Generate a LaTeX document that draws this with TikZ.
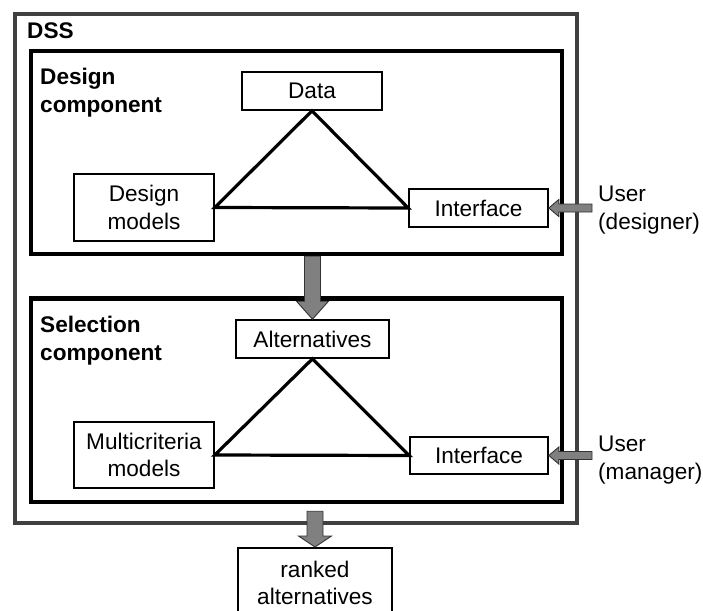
\documentclass[tikz,border=0pt]{standalone}
\usepackage{fontspec}
\setmainfont{Liberation Sans}
\usetikzlibrary{calc}

\newcommand{\dssfont}{\fontsize{22.6}{27.5}\selectfont}
\tikzset{shaft w/.store in=\shaftw, head w/.store in=\headw, tip len/.store in=\tipl,
  shaft w=8pt, head w=16pt, tip len=18pt}

\begin{document}
\begin{tikzpicture}[x=1pt, y=-1pt,
box/.style={draw, line width=1.6pt, inner sep=0pt, align=center, font=\dssfont},
comp/.style={draw, line width=4.5pt, inner sep=0pt},
title/.style={inner sep=0pt, align=left, anchor=north west, font=\dssfont\bfseries},
usertext/.style={inner sep=0pt, align=left, anchor=north west, font=\dssfont},
tri/.style={line width=3.2pt, line join=miter},
fatarrow/.style={draw=black!80, fill=gray, line width=0.9pt, line join=miter,
  to path={($(\tikztostart)!\shaftw!90:(\tikztotarget)$)
    -- ($(\tikztotarget)!\tipl!(\tikztostart)!\shaftw!90:(\tikztotarget)$)
    -- ($(\tikztotarget)!\tipl!(\tikztostart)!\headw!90:(\tikztotarget)$)
    -- (\tikztotarget)
    -- ($(\tikztotarget)!\tipl!(\tikztostart)!\headw!-90:(\tikztotarget)$)
    -- ($(\tikztotarget)!\tipl!(\tikztostart)!\shaftw!-90:(\tikztotarget)$)
    -- ($(\tikztostart)!\shaftw!-90:(\tikztotarget)$) -- cycle}}]
\useasboundingbox (0,0) rectangle (703,610);

% outer frame and the two components
\node[comp, draw=black!75, line width=4pt, minimum width=562pt, minimum height=509pt] (dss) at (296,268.5) {};
\node[comp, minimum width=531pt, minimum height=203pt] (design) at (296.5,152.5) {};
\node[comp, minimum width=531pt, minimum height=203.5pt] (selection) at (296.5,400.25) {};
\node[title, anchor=base west] (dsslabel) at (27,39) {DSS};
\node[title] (designlabel) at (40,68.3) {Design\\component};
\node[title] (selectionlabel) at (40,316.3) {Selection\\component};

% design component
\node[box, minimum width=140pt, minimum height=38pt] (data) at (312,91) {Data};
\node[box, minimum width=140pt, minimum height=67pt] (dmodels) at (144,207.5) {Design\\models};
\node[box, minimum width=139pt, minimum height=38pt] (dinter) at (478.5,208) {Interface};
\draw[tri] (data.south) -- (dmodels.east) -- (dinter.west) -- cycle;

% selection component
\node[box, minimum width=153pt, minimum height=38pt] (alts) at (312.5,339) {Alternatives};
\node[box, minimum width=140pt, minimum height=66pt] (mmodels) at (144,455) {Multicriteria\\models};
\node[box, minimum width=138pt, minimum height=37pt] (sinter) at (479,455.5) {Interface};
\draw[tri] (alts.south) -- (mmodels.east) -- (sinter.west) -- cycle;

% output and users
\node[box, minimum width=154pt, minimum height=70pt, anchor=north] (ranked) at (315,547) {ranked\\alternatives};
\node[usertext] (userd) at (598,186) {User\\(designer)};
\node[usertext] (userm) at (598,436) {User\\(manager)};
\coordinate (udtail) at (592,0 |- dinter.east);
\coordinate (umtail) at (592,0 |- sinter.east);

\draw[fatarrow] (alts.north |- design.south) to (alts.north);
\draw[fatarrow, tip len=11pt, head w=16.5pt] ($(ranked.north |- selection.south)+(0,7)$) to (ranked.north);
\draw[fatarrow, shaft w=4pt, head w=8.5pt, tip len=10pt] (udtail) to (dinter.east);
\draw[fatarrow, shaft w=4pt, head w=8.5pt, tip len=10pt] (umtail) to (sinter.east);
\end{tikzpicture}
\end{document}
